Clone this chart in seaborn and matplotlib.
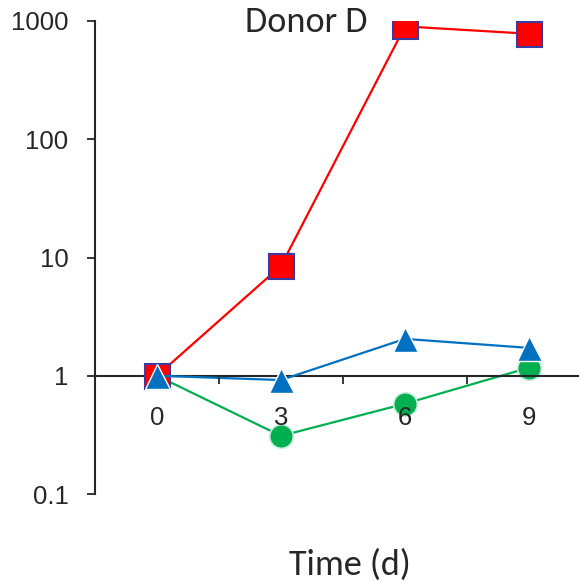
import numpy as np
import pandas as pd
import matplotlib
matplotlib.use('Agg')
import matplotlib.pyplot as plt
import seaborn as sns
import warnings
warnings.filterwarnings('ignore')

days = ['0', '3', '6', '9']
red_sq = [1.0, 8.5, 900, 780]
blue_tri = [1.0, 0.92, 2.05, 1.72]
green_circ = [1.0, 0.31, 0.58, 1.17]

sns.set_style('ticks')
plt.rcParams['font.family'] = ['Liberation Sans', 'DejaVu Sans']

df = pd.DataFrame({'pos': np.arange(len(days)), 'red': red_sq,
                   'blue': blue_tri, 'green': green_circ})

fig = plt.figure(figsize=(5.79, 5.82), dpi=100)
ax = fig.add_axes([95 / 579, 88 / 582, 496 / 579, 473 / 582])

sns.lineplot(data=df, x='pos', y='green', ax=ax, color='#00B050', lw=1.6,
             marker='o', markersize=17, markerfacecolor='#00B050',
             markeredgecolor='#c8eedc', markeredgewidth=1.2, zorder=2)
sns.lineplot(data=df, x='pos', y='red', ax=ax, color='#FF0000', lw=1.6,
             marker='s', markersize=18, markerfacecolor='#FF0000',
             markeredgecolor='#3a3aa0', markeredgewidth=1.5, zorder=3)
sns.lineplot(data=df, x='pos', y='blue', ax=ax, color='#0070C0', lw=1.6,
             marker='^', markersize=18, markerfacecolor='#0070C0',
             markeredgecolor='white', markeredgewidth=1.0, zorder=4)

ax.set_yscale('log')
ax.set_ylim(0.1, 1000)
ax.set_xlim(-0.5, 3.5)
ax.set_yticks([0.1, 1, 10, 100, 1000])
ax.set_yticklabels(['0.1', '1', '10', '100', '1000'])
ax.yaxis.set_minor_locator(matplotlib.ticker.NullLocator())
ax.set_xticks(range(len(days)))
ax.set_xticklabels(days)
ax.set_xticks([0.5, 1.5, 2.5], minor=True)
ax.tick_params(axis='x', which='major', length=0, pad=22, labelsize=18.5)
ax.tick_params(axis='x', which='minor', length=6, width=1.3, direction='out')
ax.tick_params(axis='y', which='major', length=6, width=1.3, pad=13, labelsize=18.5)
ax.xaxis.set_zorder(5)

ax.spines['top'].set_visible(False)
ax.spines['right'].set_visible(False)
ax.spines['bottom'].set_position(('data', 1))
ax.spines['bottom'].set_linewidth(1.5)
ax.spines['left'].set_linewidth(1.5)
ax.set_xlabel('')
ax.set_ylabel('')

title_font = ['Carlito', 'Lato', 'DejaVu Sans']
fig.text(306 / 579, 1 - 22 / 582, 'Donor D', ha='center', va='center',
         fontsize=26, family=title_font)
fig.text(350 / 579, 1 - 565 / 582, 'Time (d)', ha='center', va='center',
         fontsize=26, family=title_font)

fig.savefig('out.png', dpi=100)
